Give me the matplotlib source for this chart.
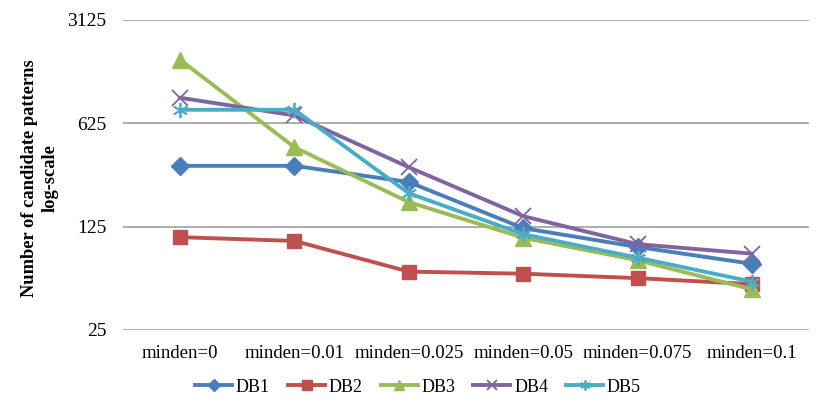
import numpy as np
import matplotlib
matplotlib.use("Agg")
import matplotlib.pyplot as plt
from matplotlib.ticker import FixedLocator, NullLocator, FixedFormatter

plt.rcParams['font.family'] = ['Liberation Serif', 'DejaVu Serif']

# %% Data
categories = ['minden=0', 'minden=0.01', 'minden=0.025', 'minden=0.05',
              'minden=0.075', 'minden=0.1']
db1 = [322, 322, 250, 122, 91, 70]
db2 = [106, 100, 62, 60, 56, 51]
db3 = [1681, 430, 183, 105, 74, 47]
db4 = [930, 706, 315, 147, 95, 82]
db5 = [771, 771, 210, 111, 77, 53]
y_ticks = [25, 125, 625, 3125]

series = [
    ('DB1', db1, '#4A7EBB', 'D', 9),
    ('DB2', db2, '#C0504D', 's', 10),
    ('DB3', db3, '#9BBB59', '^', 11),
    ('DB4', db4, '#8064A2', 'x', 11),
    ('DB5', db5, '#4BACC6', '*', 11),
]

# %% Plot
fig = plt.figure(figsize=(8.3, 4.15), dpi=100)
ax = fig.add_axes([0.148, 0.205, 0.827, 0.747])

x = np.arange(len(categories))
for name, vals, col, mk, ms in series:
    if mk in ('x', '*'):
        # thin star / cross markers like Excel
        ax.plot(x, vals, color=col, lw=2.8, label=name, marker='x' if mk == 'x' else (6, 2, 0),
                markersize=ms, markeredgewidth=1.3, markerfacecolor=col, markeredgecolor=col)
    else:
        ax.plot(x, vals, color=col, lw=2.8, label=name, marker=mk,
                markersize=ms, markeredgecolor=col, markerfacecolor=col)

ax.set_yscale('log')
ax.set_ylim(25, 3125)
ax.yaxis.set_major_locator(FixedLocator(y_ticks))
ax.yaxis.set_major_formatter(FixedFormatter([str(t) for t in y_ticks]))
ax.yaxis.set_minor_locator(NullLocator())
ax.set_xlim(-0.5, len(categories) - 0.5)
ax.set_xticks(x)
ax.set_xticklabels(categories, fontsize=13.5)
ax.tick_params(axis='y', labelsize=14, length=0, pad=12)
ax.tick_params(axis='x', length=0, pad=11)
ax.grid(axis='y', color='#a0a0a0', lw=1.2)
ax.set_axisbelow(True)
for s in ax.spines.values():
    s.set_visible(False)

ax.set_ylabel('Number of candidate patterns\nlog-scale', fontsize=13.3,
              fontweight='bold', linespacing=1.25)
ax.yaxis.set_label_coords(-0.094, 0.49)

ax.legend(loc='center', bbox_to_anchor=(0.43, -0.185), ncol=5, frameon=False,
          fontsize=13, handlelength=2.05, columnspacing=1.0, handletextpad=0.2,
          markerscale=0.65)

fig.savefig('out.png', dpi=100)
